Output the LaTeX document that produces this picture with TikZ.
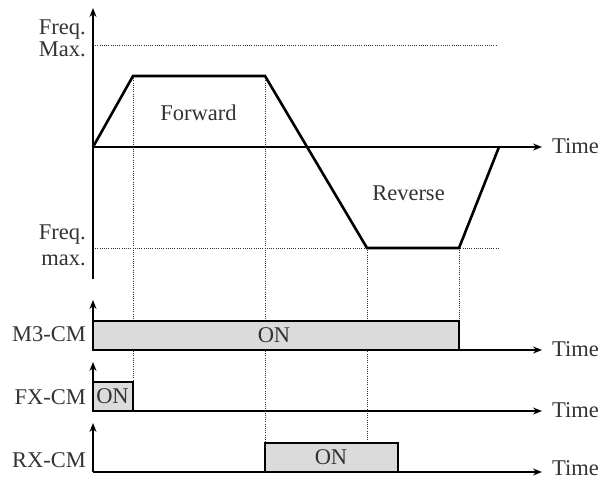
\documentclass[tikz,border=0pt]{standalone}
\usepackage{fontspec}
\setmainfont{Liberation Serif}
\usetikzlibrary{arrows.meta}
\begin{document}
\begin{tikzpicture}[x=1pt,y=-1pt,
  txt/.style={text=black!80, font=\fontsize{22.5}{26}\selectfont, inner sep=0pt},
  axis/.style={line width=1.3pt, -{Stealth[length=9pt,width=7pt,inset=3pt]}},
  dotline/.style={line width=0.9pt, dash pattern=on 1pt off 1.2pt, black!80},
  wave/.style={line width=2.6pt, line join=miter},
  onbox/.style={draw, line width=1.3pt, fill=black!14}]
\useasboundingbox (0,0) rectangle (611,480);

% coordinates
\coordinate (o) at (93,147);
\coordinate (ybot) at (93,279);
\coordinate (ytop) at (93,8);
\coordinate (xend) at (542,147);
\coordinate (p1) at (133,76);
\coordinate (p2) at (265,76);
\coordinate (p3) at (367,248);
\coordinate (p4) at (459,248);
\coordinate (p5) at (499,147);
\coordinate (mx1) at (93,45);
\coordinate (mx2) at (497,45);
\coordinate (mn1) at (93,248);
\coordinate (mn2) at (500,248);

\coordinate (m3o) at (93,350);
\coordinate (m3t) at (93,300);
\coordinate (m3e) at (542,350);
\coordinate (fxo) at (93,411);
\coordinate (fxt) at (93,362);
\coordinate (fxe) at (542,411);
\coordinate (rxo) at (93,472);
\coordinate (rxt) at (93,423);
\coordinate (rxe) at (542,472);

% dotted guides
\draw[dotline] (mx1) -- (mx2);
\draw[dotline] (mn1) -- (mn2);
\draw[dotline] (p1) -- (133,382);
\draw[dotline] (p2) -- (265,443);
\draw[dotline] (p3) -- (367,443);
\draw[dotline] (p4) -- (459,321);

% ON boxes
\draw[onbox] (93,321) rectangle (459,350);
\draw[onbox] (93,382) rectangle (133,411);
\draw[onbox] (265,443) rectangle (398,472);

% axes
\draw[axis] (ybot) -- (ytop);
\draw[axis] (o) -- (xend);
\draw[axis] (m3o) -- (m3t);
\draw[axis] (m3o) -- (m3e);
\draw[axis] (fxo) -- (fxt);
\draw[axis] (fxo) -- (fxe);
\draw[axis] (rxo) -- (rxt);
\draw[axis] (rxo) -- (rxe);

% frequency profile
\draw[wave] (o) -- (p1) -- (p2) -- (p3) -- (p4) -- (p5);

% texts
\node[txt, anchor=base east] (fq1) at (86,34) {Freq.};
\node[txt, anchor=base east] (mx) at (86,56) {Max.};
\node[txt, anchor=base east] (fq2) at (86,239) {Freq.};
\node[txt, anchor=base east] (mn) at (86,265) {max.};
\node[txt, anchor=base] (fwd) at (198.5,120) {Forward};
\node[txt, anchor=base] (rev) at (408.5,200) {Reverse};

\node[txt, anchor=base west] (t0) at (552,153) {Time};
\node[txt, anchor=base west] (t1) at (552,356) {Time};
\node[txt, anchor=base west] (t2) at (552,417) {Time};
\node[txt, anchor=base west] (t3) at (552,475.5) {Time};

\node[txt, anchor=base east] (m3) at (86,341) {M3-CM};
\node[txt, anchor=base east] (fx) at (86,404) {FX-CM};
\node[txt, anchor=base east] (rx) at (86,467) {RX-CM};

\node[txt, anchor=base] (on1) at (274,342) {ON};
\node[txt, anchor=base] (on2) at (112.5,403) {ON};
\node[txt, anchor=base] (on3) at (331,464) {ON};
\end{tikzpicture}
\end{document}
